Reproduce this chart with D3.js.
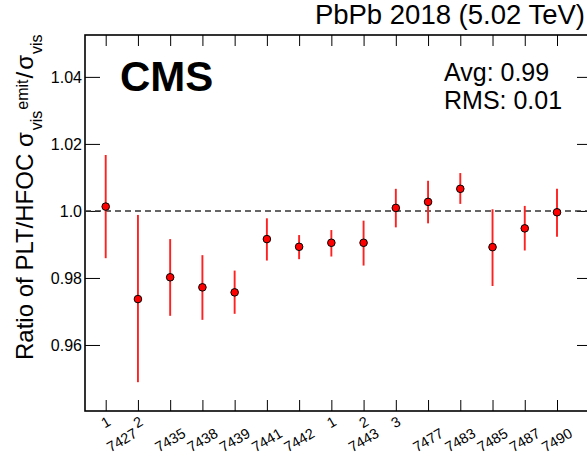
<!DOCTYPE html>
<html>
<head>
<meta charset="utf-8">
<script src="https://cdn.jsdelivr.net/npm/d3@7"></script>
<style>
  body { margin: 0; background: #fff; }
  svg text { font-family: "Liberation Sans", Arial, Helvetica, sans-serif; fill: #000; }
</style>
</head>
<body>
<div id="chart"></div>
<script>
// scan-by-scan ratio
var scanNumbers = ["1", "2", "", "", "", "", "", "1", "2", "3", "", "", "", "", ""];
var fillOfScan  = [7427, 7427, 7435, 7438, 7439, 7441, 7442, 7443, 7443, 7443, 7477, 7483, 7485, 7487, 7490];
var ratio       = [1.0013, 0.9737, 0.9802, 0.9772, 0.9757, 0.9916, 0.9893, 0.9905, 0.9905, 1.0009, 1.0027, 1.0066, 0.9892, 0.9948, 0.9996];
var errLow      = [0.9859, 0.9489, 0.9687, 0.9675, 0.9693, 0.9852, 0.9856, 0.9864, 0.9837, 0.9951, 0.9963, 1.0021, 0.9776, 0.9882, 0.9923];
var errHigh     = [1.0167, 0.9988, 0.9916, 0.9868, 0.9822, 0.9978, 0.9928, 0.9943, 0.9971, 1.0066, 1.0090, 1.0113, 1.0005, 1.0015, 1.0066];
var yTicks      = [0.96, 0.98, 1.0, 1.02, 1.04];
var yTickLabels = ["0.96", "0.98", "1.0", "1.02", "1.04"];

var width = 587, height = 460;
var frame = {left: 85, top: 35, right: 592, bottom: 411};

var svg = d3.select("#chart").append("svg")
    .attr("width", width)
    .attr("height", height);

var x = d3.scaleLinear()
    .domain([0, ratio.length - 1])
    .range([105.7, 557]);

var y = d3.scaleLinear()
    .domain([0.9403, 1.0525])
    .range([frame.bottom, frame.top]);

var idx = d3.range(ratio.length);

// axes (ticks only, frame drawn separately)
svg.append("g")
    .attr("transform", "translate(" + frame.left + ",0)")
    .call(d3.axisLeft(y).tickValues(yTicks).tickSize(-15).tickPadding(3)
        .tickFormat(function (d, i) { return yTickLabels[i]; }))
    .call(function (g) {
        g.select(".domain").remove();
        g.selectAll("text").style("font-size", "16px")
            .style("font-family", "'Liberation Sans', Arial, sans-serif");
    });

svg.append("g")
    .attr("transform", "translate(" + frame.right + ",0)")
    .call(d3.axisRight(y).tickValues(yTicks).tickSize(-15).tickFormat(""))
    .call(function (g) { g.select(".domain").remove(); });

svg.append("g")
    .attr("transform", "translate(0," + frame.bottom + ")")
    .call(d3.axisBottom(x).tickValues(idx).tickSize(-11).tickFormat(""))
    .call(function (g) { g.select(".domain").remove(); });

svg.append("g")
    .attr("transform", "translate(0," + frame.top + ")")
    .call(d3.axisTop(x).tickValues(idx).tickSize(-11).tickFormat(""))
    .call(function (g) { g.select(".domain").remove(); });

svg.selectAll(".tick line").attr("stroke", "#000").attr("stroke-width", 1);

svg.append("rect")
    .attr("x", frame.left)
    .attr("y", frame.top)
    .attr("width", frame.right - frame.left)
    .attr("height", frame.bottom - frame.top)
    .attr("fill", "none")
    .attr("stroke", "#000")
    .attr("stroke-width", 1.6);

// reference line at 1
svg.append("line")
    .attr("x1", frame.left)
    .attr("x2", frame.right)
    .attr("y1", y(1.0))
    .attr("y2", y(1.0))
    .attr("stroke", "#333")
    .attr("stroke-width", 1.5)
    .attr("stroke-dasharray", "6,4");

// error bars
svg.append("g").selectAll("line")
    .data(idx)
    .enter()
    .append("line")
      .attr("x1", function (i) { return x(i); })
      .attr("x2", function (i) { return x(i); })
      .attr("y1", function (i) { return y(errLow[i]); })
      .attr("y2", function (i) { return y(errHigh[i]); })
      .attr("stroke", "#ff2020")
      .attr("stroke-width", 1.9);

// markers
svg.append("g").selectAll("circle")
    .data(idx)
    .enter()
    .append("circle")
      .attr("cx", function (i) { return x(i); })
      .attr("cy", function (i) { return y(ratio[i]); })
      .attr("r", 3.8)
      .attr("fill", "#ff0000")
      .attr("stroke", "#000")
      .attr("stroke-width", 1);

// x labels: scan numbers and fill numbers (rotated)
var angle = -30;
svg.append("g").selectAll("text")
    .data(idx.filter(function (i) { return scanNumbers[i] !== ""; }))
    .enter()
    .append("text")
      .attr("transform", function (i) { return "translate(" + x(i) + ",422) rotate(" + angle + ")"; })
      .attr("text-anchor", "middle")
      .attr("dy", "0.35em")
      .style("font-size", "14.5px")
      .text(function (i) { return scanNumbers[i]; });

var fills = [];
fillOfScan.forEach(function (f, i) {
    var last = fills[fills.length - 1];
    if (last && last.fill === f) { last.idx.push(i); }
    else { fills.push({fill: f, idx: [i]}); }
});

svg.append("g").selectAll("text")
    .data(fills)
    .enter()
    .append("text")
      .attr("transform", function (d) { return "translate(" + x(d3.mean(d.idx)) + ",440) rotate(" + angle + ")"; })
      .attr("text-anchor", "middle")
      .attr("dy", "0.35em")
      .style("font-size", "14.5px")
      .text(function (d) { return d.fill; });

// y axis title
var yt = svg.append("text")
    .attr("transform", "translate(33,360) rotate(-90)")
    .style("font-size", "24px");
yt.append("tspan").text("Ratio of PLT/HFOC σ");
yt.append("tspan").attr("dx", 2).attr("dy", 9).style("font-size", "16px").text("vis");
yt.append("tspan").attr("dx", 1).attr("dy", -14).style("font-size", "16px").text("emit");
yt.append("tspan").attr("dx", 1).attr("dy", 5).text("/");
yt.append("tspan").attr("dx", 2).text("σ");
yt.append("tspan").attr("dx", 1).attr("dy", 9).style("font-size", "16px").text("vis");

// titles and annotations
svg.append("text")
    .attr("x", 585)
    .attr("y", 24)
    .attr("text-anchor", "end")
    .style("font-size", "27.5px")
    .text("PbPb 2018 (5.02 TeV)");

svg.append("text")
    .attr("x", 120)
    .attr("y", 91)
    .style("font-size", "42px")
    .style("font-weight", "bold")
    .text("CMS");

svg.append("text")
    .attr("x", 444)
    .attr("y", 80.5)
    .style("font-size", "25px")
    .text("Avg: 0.99");

svg.append("text")
    .attr("x", 444)
    .attr("y", 109)
    .style("font-size", "25px")
    .text("RMS: 0.01");
</script>
</body>
</html>
